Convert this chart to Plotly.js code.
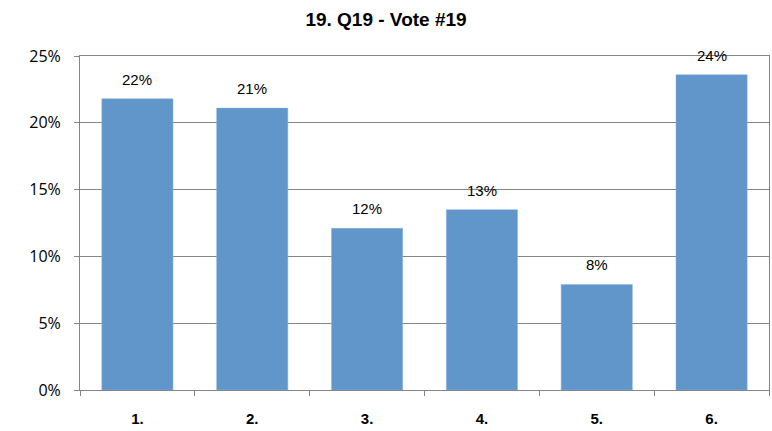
<!DOCTYPE html>
<html><head><meta charset="utf-8">
<script src="https://cdn.plot.ly/plotly-3.0.1.min.js"></script>
<style>html,body{margin:0;padding:0;background:#fff}#chart{width:772px;height:431px}</style>
</head><body><div id="chart"></div>
<script>
const categories = ["1.", "2.", "3.", "4.", "5.", "6."];
const values = [0.218, 0.211, 0.121, 0.135, 0.079, 0.236];
const labels = ["22%", "21%", "12%", "13%", "8%", "24%"];
const yTicks = [0, 0.05, 0.10, 0.15, 0.20, 0.25];
const yTickText = ["0%", "5%", "10%", "15%", "20%", "25%"];

const trace = {
  type: "bar", x: categories, y: values,
  marker: {color: "#6096CA", line: {color: "#8DB3E2", width: 0.5}},
  width: 0.62, hoverinfo: "skip"
};
const annotations = categories.map((c, i) => ({
  x: i, y: values[i], text: labels[i], showarrow: false,
  xanchor: "center", yanchor: "bottom", yshift: 9,
  font: {family: "Liberation Sans, Arial", size: 15, color: "#000"}
}));
const layout = {
  width: 772, height: 431,
  margin: {l: 80, r: 3, t: 56, b: 41},
  paper_bgcolor: "#fff", plot_bgcolor: "#fff",
  title: {text: "<b>19. Q19 - Vote #19</b>", x: 0.5, xanchor: "center", y: 0.955, yanchor: "middle",
          font: {family: "Liberation Sans, Arial", size: 19, color: "#000"}},
  showlegend: false,
  xaxis: {
    type: "category", range: [-0.5, 5.5], showgrid: false, showline: true, linecolor: "#868686", linewidth: 1, mirror: true,
    ticks: "outside", tickson: "boundaries", ticklen: 5, tickcolor: "#868686",
    tickfont: {family: "Liberation Sans, Arial", size: 15, color: "#000", weight: "bold"},
    ticklabelstandoff: 15, fixedrange: true
  },
  yaxis: {
    range: [0, 0.25], tickvals: yTicks, ticktext: yTickText,
    showgrid: true, gridcolor: "#868686", gridwidth: 1, zeroline: false,
    showline: true, linecolor: "#868686", linewidth: 1, mirror: true,
    ticks: "outside", ticklen: 5, tickcolor: "#868686",
    tickfont: {family: "Open Sans, Liberation Sans", size: 16, color: "#000"},
    ticklabelstandoff: 10, fixedrange: true
  },
  annotations: annotations,
  bargap: 0.38
};
Plotly.newPlot("chart", [trace], layout, {displayModeBar: false, staticPlot: true});
</script></body></html>
